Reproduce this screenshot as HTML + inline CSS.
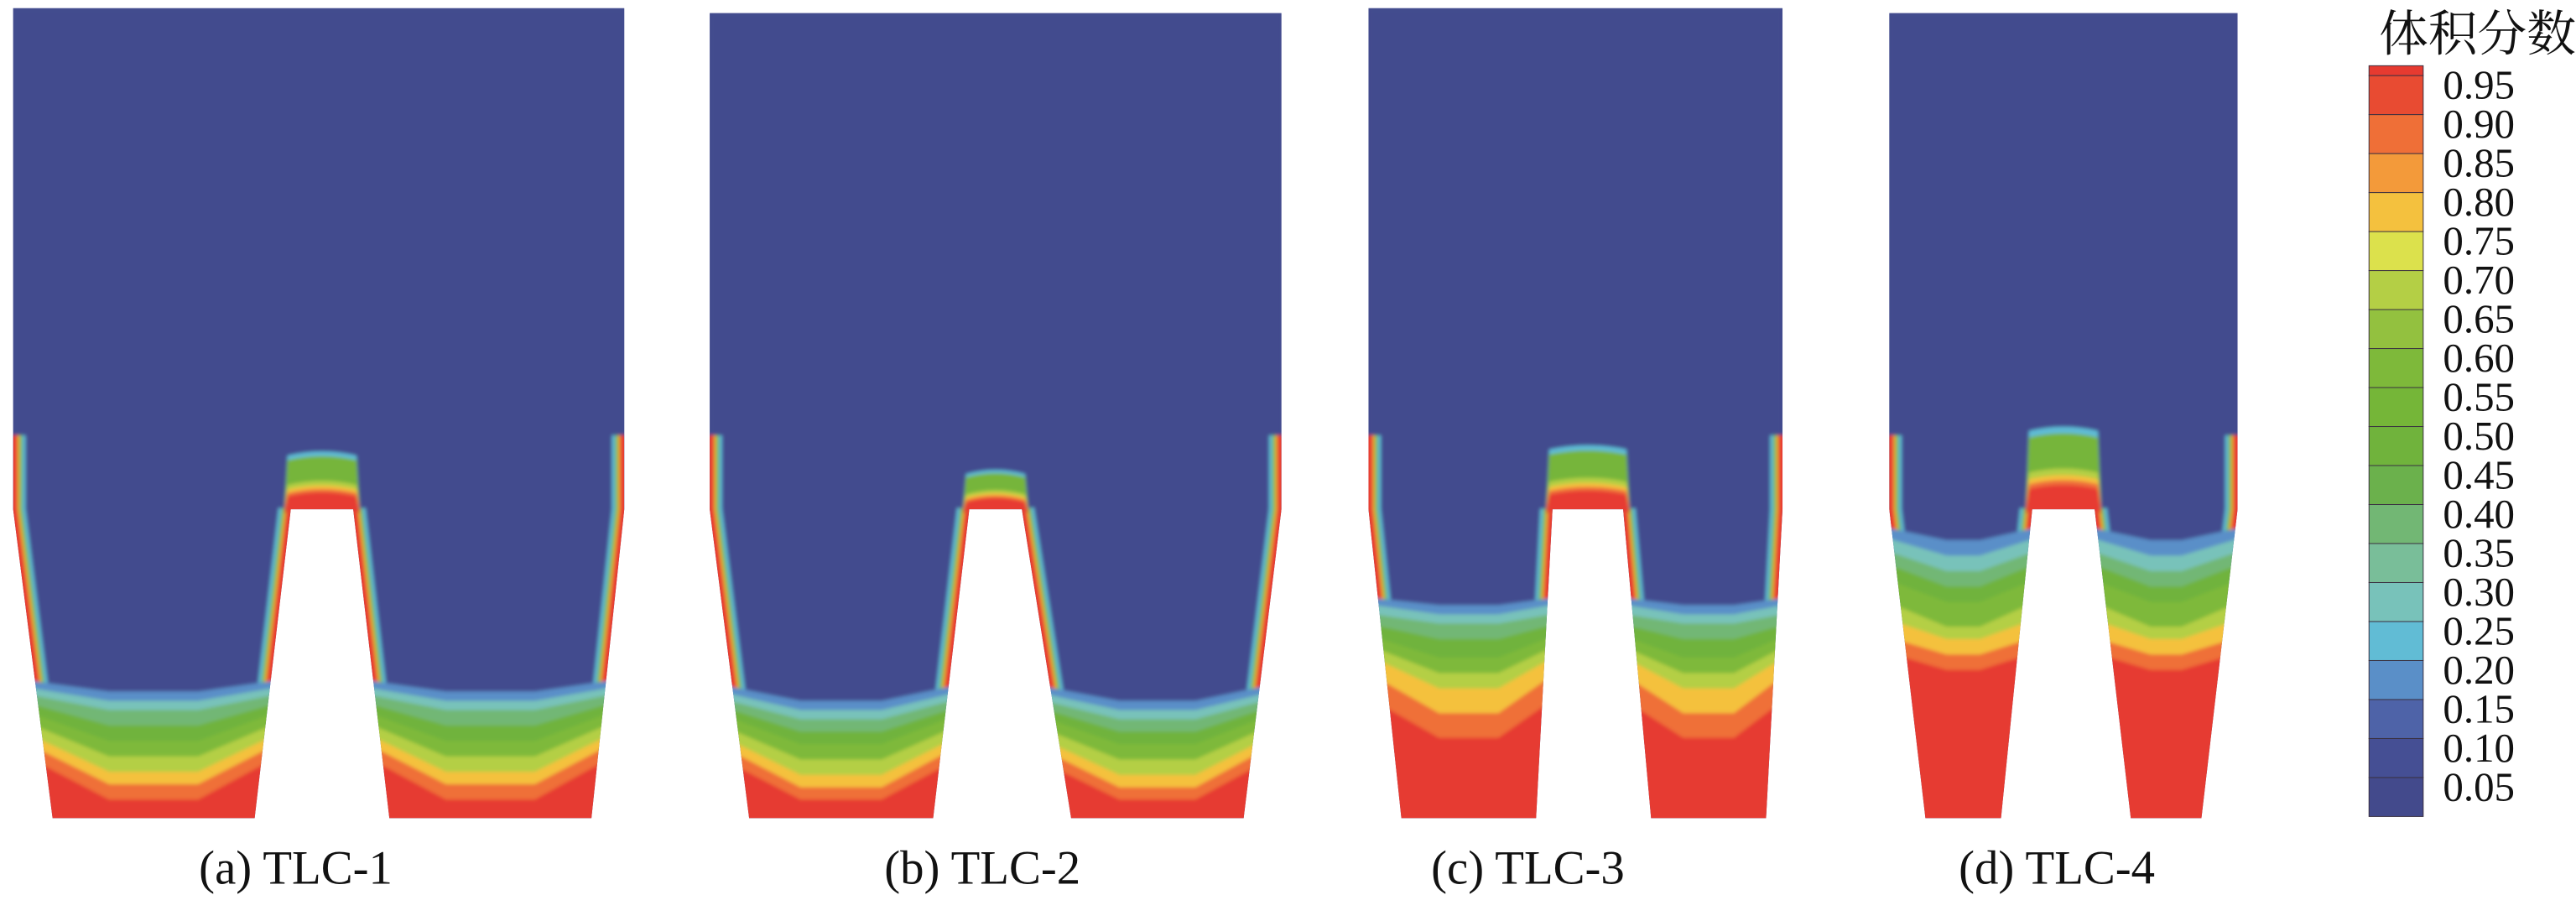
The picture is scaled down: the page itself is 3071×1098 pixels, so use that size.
<!DOCTYPE html>
<html><head><meta charset="utf-8">
<style>
html,body{margin:0;padding:0;background:#fff;}
svg{display:block;}
</style></head>
<body>
<svg id="fig" xmlns="http://www.w3.org/2000/svg" width="3071" height="1098" viewBox="0 0 1568 560.6" preserveAspectRatio="none">
</svg>
<script>
// ---- data ----
const panelLabels = ["(a) TLC-1", "(b) TLC-2", "(c) TLC-3", "(d) TLC-4"];
const layerValues = [0.15, 0.25, 0.35, 0.45, 0.55, 0.65, 0.75, 0.85, 0.95];
// liquid level fractions (0 = channel bottom, 1 = shoulder) at channel walls / channel centre
const wallLevelA = [0.46, 0.44, 0.42, 0.40, 0.38, 0.35, 0.32, 0.29, 0.25];
const centerLevelA = [0.41, 0.38, 0.35, 0.30, 0.25, 0.20, 0.15, 0.11, 0.06];
const wallLevelB = [0.45, 0.43, 0.41, 0.39, 0.37, 0.34, 0.31, 0.28, 0.24];
const centerLevelB = [0.38, 0.35, 0.32, 0.28, 0.24, 0.19, 0.14, 0.10, 0.06];
const wallLevelC = [0.72, 0.70, 0.67, 0.64, 0.61, 0.58, 0.55, 0.50, 0.42];
const centerLevelC = [0.69, 0.66, 0.63, 0.58, 0.52, 0.47, 0.42, 0.34, 0.26];
const wallLevelD = [0.95, 0.92, 0.88, 0.84, 0.79, 0.72, 0.66, 0.60, 0.55];
const centerLevelD = [0.90, 0.85, 0.80, 0.75, 0.70, 0.62, 0.58, 0.53, 0.48];
const capLevel = [0.19, 0.13, 0.21, 0.27]; // rib-top liquid cap height (fraction)
const tickLabels = ["0.95","0.90","0.85","0.80","0.75","0.70","0.65","0.60","0.55","0.50","0.45","0.40","0.35","0.30","0.25","0.20","0.15","0.10","0.05"];
const bandColors = ["#434A8C","#454F94","#4E63A8","#5A8FC8","#61BCD5","#78C2BA","#79BE99","#72B774","#6BB14C","#70B33C","#75B638","#7EB93A","#93C13F","#B4CF45","#DCE14C","#F4C13E","#F39A3A","#EF6F37","#E84B32","#E63A30"];

const wallLevels = [wallLevelA, wallLevelB, wallLevelC, wallLevelD];
const centerLevels = [centerLevelA, centerLevelB, centerLevelC, centerLevelD];

// ---- geometry (layout only) ----
const geom = [
  {top:5, xl:8, xr:380, ob1:32, rb1:155, rt1:177, rt2:215, rb2:237, ob2:360, lx:180},
  {top:8, xl:432, xr:780, ob1:456, rb1:568, rt1:590, rt2:622, rb2:652, ob2:757, lx:598},
  {top:5, xl:833, xr:1085, ob1:853, rb1:935, rt1:945, rt2:988, rb2:1005, ob2:1075, lx:930},
  {top:8, xl:1150, xr:1362, ob1:1172, rb1:1218, rt1:1237, rt2:1275, rb2:1297, ob2:1340, lx:1252}
];
const SH = 310, BOT = 498, H = BOT - SH;
const yOf = f => BOT - f * H;
function colorOf(v){ let i = Math.min(19, Math.floor(v/0.05 + 1e-6)); return bandColors[i]; }

const NS = "http://www.w3.org/2000/svg";
const svg = document.getElementById('fig');
function mk(tag, attrs, parent){ const e = document.createElementNS(NS, tag); for (const k in attrs) e.setAttribute(k, attrs[k]); (parent||svg).appendChild(e); return e; }
const defs = mk('defs', {});
const flt = mk('filter', {id: 'soft', x: '-5%', y: '-5%', width: '110%', height: '110%'}, defs);
mk('feGaussianBlur', {stdDeviation: 1.1}, flt);

geom.forEach((g, p) => {
  const grp = mk('g', {});
  
  
  const domain = `${g.xl},${g.top} ${g.xr},${g.top} ${g.xr},${SH} ${g.ob2},${BOT} ${g.rb2},${BOT} ${g.rt2},${SH} ${g.rt1},${SH} ${g.rb1},${BOT} ${g.ob1},${BOT} ${g.xl},${SH}`;
  const cp = mk('clipPath', {id: 'clip' + p}, defs);
  mk('polygon', {points: domain}, cp);
  const bg = mk('polygon', {points: domain, fill: '#434C8E'}, grp);
  
  
  const clipG = mk('g', {'clip-path': `url(#clip${p})`}, grp);
  const inner = mk('g', {filter: 'url(#soft)'}, clipG);
  mk('polygon', {points: domain, fill: '#434C8E'}, inner);
  // wall films
  const walls = [[g.xl, SH-45, g.xl, SH, g.ob1, BOT], [g.rt1, SH, g.rb1, BOT], [g.rt2, SH, g.rb2, BOT], [g.xr, SH-45, g.xr, SH, g.ob2, BOT]];
  [['#5FBCD6', 15], ['#76B53A', 11], ['#F5C03C', 7.5], ['#E73B30', 5.5]].forEach(([c, w]) => {
    walls.forEach(wl => {
      const pts = [];
      for (let i = 0; i < wl.length; i += 2) pts.push(wl[i] + ',' + wl[i+1]);
      mk('polyline', {points: pts.join(' '), fill: 'none', stroke: c, 'stroke-width': w}, inner);
    });
  });
  // rib cap
  const cw = g.rt2 - g.rt1;
  const cap = capLevel[p] * H;
  [[1.0, '#5FBCD6'], [0.92, '#76B53A'], [0.5, '#B4CF45'], [0.42, '#F5C03C'], [0.36, '#EF6E3A'], [0.3, '#E73B30']].forEach(([f, c]) => {
    const r = mk('path', {d: `M${g.rt1-4},${SH+2} L${g.rt1-2},${SH-cap*f+3} Q${g.rt1+cw/2},${SH-cap*f-2} ${g.rt2+2},${SH-cap*f+3} L${g.rt2+4},${SH+2} Z`, fill: c}, inner);
    
    
  });
  // channel liquid layers
  const chans = [[g.xl, g.rt1, g.ob1, g.rb1], [g.rt2, g.xr, g.rb2, g.ob2]];
  chans.forEach(([x1, x2, b1, b2]) => {
    layerValues.forEach((v, i) => {
      const yw = yOf(wallLevels[p][i]), yc = yOf(centerLevels[p][i]);
      const w = b2 - b1;
      const pts = `${x1-10},${yw} ${b1 + w*0.28},${yc} ${b2 - w*0.28},${yc} ${x2+10},${yw} ${x2+10},${BOT+5} ${x1-10},${BOT+5}`;
      const poly = mk('polygon', {points: pts, fill: colorOf(v)}, inner);
      
      
    });
  });
  const t = mk('text', {x: g.lx, y: 538, 'text-anchor': 'middle', 'font-family': '"Liberation Serif", serif', 'font-size': 29, fill: '#111'}, grp);
  t.textContent = panelLabels[p];
  
  
});

// ---- legend ----
const lg = mk('g', {});


const title = mk('text', {x: 1508, y: 31, 'text-anchor': 'middle', 'font-family': '"Liberation Serif", "Noto Serif CJK SC", serif', 'font-size': 30, fill: '#111'}, lg);
title.textContent = '体积分数';


const bx = 1442, bw = 33, by0 = 40, by1 = 497;
const step = (by1 - by0 - 6) / 19;
for (let i = 0; i < 20; i++) {
  let y, h;
  if (i === 19) { y = by0; h = 6; } else { y = by1 - (i+1) * step; h = step; }
  const r = mk('rect', {x: bx, y: y, width: bw, height: h, fill: bandColors[i], stroke: '#3a3040', 'stroke-width': 0.5}, lg);
  
  
}
tickLabels.forEach((s, i) => {
  const t = mk('text', {x: 1487, y: 60 + i * step, 'font-family': '"Liberation Serif", serif', 'font-size': 25, fill: '#111'}, lg);
  t.textContent = s;
  
  
});
</script>
</body></html>
